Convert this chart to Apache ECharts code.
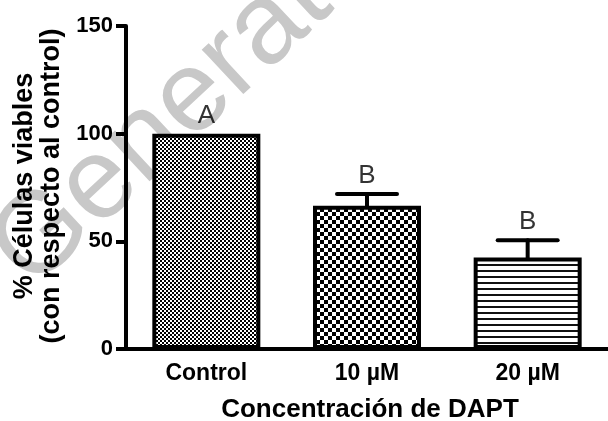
<!DOCTYPE html>
<html>
<head>
<meta charset="utf-8">
<script src="https://cdn.jsdelivr.net/npm/echarts@6/dist/echarts.min.js"></script>
<style>
html,body{margin:0;padding:0;background:#fff;}
#chart{width:608px;height:421px;}
</style>
</head>
<body>
<div id="chart"></div>
<script>
const categories = ['Control', '10 µM', '20 µM'];
const values = [100, 66.5, 42.5];
const errors = [0, 5.5, 8];
const letters = ['A', 'B', 'B'];
const yMin = 0, yMax = 150, yStep = 50;
const yTitleLines = ['% Células viables', '(con respecto al control)'];
const xTitle = 'Concentración de DAPT';
const watermark = 'Generated';

const FONT = 'Liberation Sans, Arial, sans-serif';

function checker(n) {
  const c = document.createElement('canvas');
  c.width = 2 * n; c.height = 2 * n;
  const g = c.getContext('2d');
  g.fillStyle = '#fff'; g.fillRect(0, 0, 2 * n, 2 * n);
  g.fillStyle = '#000';
  g.fillRect(0, 0, n, n); g.fillRect(n, n, n, n);
  return c;
}
function stripes(period, thick) {
  const c = document.createElement('canvas');
  c.width = 8; c.height = period;
  const g = c.getContext('2d');
  g.fillStyle = '#fff'; g.fillRect(0, 0, 8, period);
  g.fillStyle = '#111'; g.fillRect(0, 0, 8, thick);
  return c;
}
const patterns = [
  { image: checker(2), repeat: 'repeat' },
  { image: checker(4), repeat: 'repeat' },
  { image: stripes(6, 2), repeat: 'repeat' }
];

const chart = echarts.init(document.getElementById('chart'), null, { renderer: 'canvas' });

const option = {
  animation: false,
  backgroundColor: '#fff',
  grid: { left: 126, top: 26, width: 488, height: 323, containLabel: false },
  xAxis: {
    type: 'category',
    data: categories,
    axisLine: { lineStyle: { color: '#000', width: 4 } },
    axisTick: { alignWithLabel: true, length: 10, lineStyle: { color: '#000', width: 4 } },
    axisLabel: { color: '#000', fontFamily: FONT, fontWeight: 'bold', fontSize: 23, margin: 13 },
    splitLine: { show: false }
  },
  yAxis: {
    type: 'value',
    min: yMin, max: yMax, interval: yStep,
    axisLine: { show: true, lineStyle: { color: '#000', width: 4 } },
    axisTick: { show: true, length: 10, lineStyle: { color: '#000', width: 4 } },
    axisLabel: { color: '#000', fontFamily: FONT, fontWeight: 'bold', fontSize: 22, margin: 13 },
    splitLine: { show: false }
  },
  graphic: [
    {
      type: 'text', x: 10, y: 268, rotation: 0.75, z: -10, silent: true,
      style: { text: watermark, font: '115px ' + FONT, fill: '#c8c8c8', textAlign: 'left', textVerticalAlign: 'middle' }
    },
    {
      type: 'text', x: 25, y: 186, rotation: Math.PI / 2, z: 10,
      style: { text: yTitleLines[0], font: 'bold 27px ' + FONT, fill: '#000', textAlign: 'center', textVerticalAlign: 'middle' }
    },
    {
      type: 'text', x: 52, y: 186, rotation: Math.PI / 2, z: 10,
      style: { text: yTitleLines[1], font: 'bold 27px ' + FONT, fill: '#000', textAlign: 'center', textVerticalAlign: 'middle' }
    },
    {
      type: 'text', x: 370, y: 410, z: 10,
      style: { text: xTitle, font: 'bold 26px ' + FONT, fill: '#000', textAlign: 'center', textVerticalAlign: 'middle' }
    }
  ],
  series: [
    {
      type: 'bar',
      barWidth: 108,
      z: 3,
      data: values.map((v, i) => ({
        value: v,
        itemStyle: { color: patterns[i], borderColor: '#000', borderWidth: 4 }
      }))
    },
    {
      type: 'custom',
      z: 2,
      data: values.map((v, i) => [i, v, v + errors[i]]),
      renderItem: function (params, api) {
        const i = api.value(0), lo = api.value(1), hi = api.value(2);
        if (hi <= lo) return null;
        const p0 = api.coord([i, lo]);
        const p1 = api.coord([i, hi]);
        const hw = 30;
        const st = { stroke: '#000', lineWidth: 4, lineCap: 'round' };
        return {
          type: 'group',
          children: [
            { type: 'line', shape: { x1: p0[0], y1: p0[1], x2: p1[0], y2: p1[1] }, style: st },
            { type: 'line', shape: { x1: p1[0] - hw, y1: p1[1], x2: p1[0] + hw, y2: p1[1] }, style: st }
          ]
        };
      }
    },
    {
      type: 'scatter',
      symbolSize: 0,
      z: 4,
      data: values.map((v, i) => [i, v + errors[i]]),
      label: {
        show: true,
        position: 'top',
        distance: 5,
        color: '#000',
        fontFamily: FONT,
        fontSize: 26,
        formatter: p => letters[p.dataIndex]
      }
    }
  ]
};
chart.setOption(option);
</script>
</body>
</html>
